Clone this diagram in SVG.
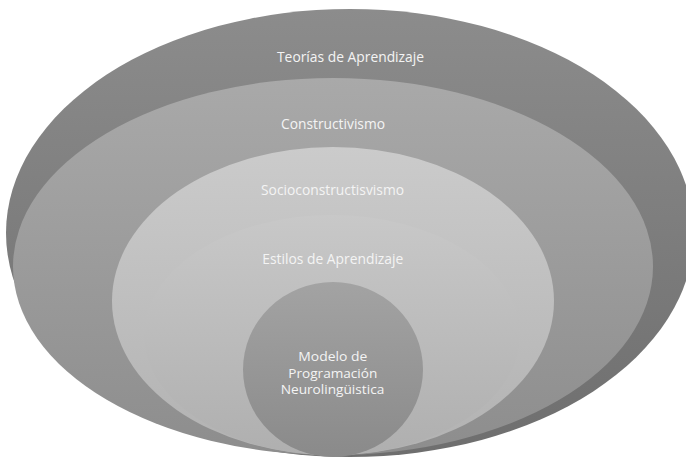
<svg xmlns="http://www.w3.org/2000/svg" width="686" height="459" viewBox="0 0 686 459">
  <style>
    .lbl { font-family: "Open Sans", "Liberation Sans", sans-serif; font-size: 14.5px; fill: #f4f4f4; text-anchor: middle; }
    .sm { font-size: 12px; }
  </style>
  <defs>
    <linearGradient id="gOuter" x1="0" y1="0" x2="0" y2="1">
      <stop offset="0" stop-color="#8c8c8c"/>
      <stop offset="1" stop-color="#6e6e6e"/>
    </linearGradient>
    <linearGradient id="gConstr" x1="0" y1="0" x2="0" y2="1">
      <stop offset="0" stop-color="#a9a9a9"/>
      <stop offset="1" stop-color="#8d8d8d"/>
    </linearGradient>
    <linearGradient id="gSocio" x1="0" y1="0" x2="0" y2="1">
      <stop offset="0" stop-color="#cbcbcb"/>
      <stop offset="1" stop-color="#b2b2b2"/>
    </linearGradient>
    <linearGradient id="gEstilos" x1="0" y1="0" x2="0" y2="1">
      <stop offset="0" stop-color="#c8c8c8"/>
      <stop offset="1" stop-color="#afafaf"/>
    </linearGradient>
    <linearGradient id="gModelo" x1="0" y1="0" x2="0" y2="1">
      <stop offset="0" stop-color="#a3a3a3"/>
      <stop offset="1" stop-color="#8a8a8a"/>
    </linearGradient>
  </defs>
  <rect width="686" height="459" fill="#ffffff"/>
  <g id="node-teorias">
    <ellipse cx="350" cy="233" rx="344" ry="224" fill="url(#gOuter)"/>
    <text class="lbl" x="350.5" y="61.5" textLength="147" lengthAdjust="spacingAndGlyphs">Teorías de Aprendizaje</text>
  </g>
  <g id="node-constructivismo">
    <ellipse cx="333" cy="266.5" rx="320" ry="188.5" fill="url(#gConstr)"/>
    <text class="lbl" x="333" y="128.5" textLength="104" lengthAdjust="spacingAndGlyphs">Constructivismo</text>
  </g>
  <g id="node-socioconstructivismo">
    <ellipse cx="333" cy="301" rx="221" ry="154" fill="url(#gSocio)"/>
    <text class="lbl" x="332.5" y="195" textLength="143" lengthAdjust="spacingAndGlyphs">Socioconstructisvismo</text>
  </g>
  <g id="node-estilos">
    <ellipse cx="332" cy="335" rx="188" ry="120" fill="url(#gEstilos)"/>
    <text class="lbl" x="332.8" y="264" textLength="141" lengthAdjust="spacingAndGlyphs">Estilos de Aprendizaje</text>
  </g>
  <g id="node-modelo">
    <ellipse cx="333" cy="369.5" rx="90" ry="87.5" fill="url(#gModelo)"/>
    <text class="lbl sm" x="332.8" y="361" textLength="69" lengthAdjust="spacingAndGlyphs">Modelo de</text>
    <text class="lbl sm" x="332.8" y="377.5" textLength="89" lengthAdjust="spacingAndGlyphs">Programación</text>
    <text class="lbl sm" x="332.5" y="394" textLength="103.6" lengthAdjust="spacingAndGlyphs">Neurolingüistica</text>
  </g>
  <g id="connectors"/>
</svg>
